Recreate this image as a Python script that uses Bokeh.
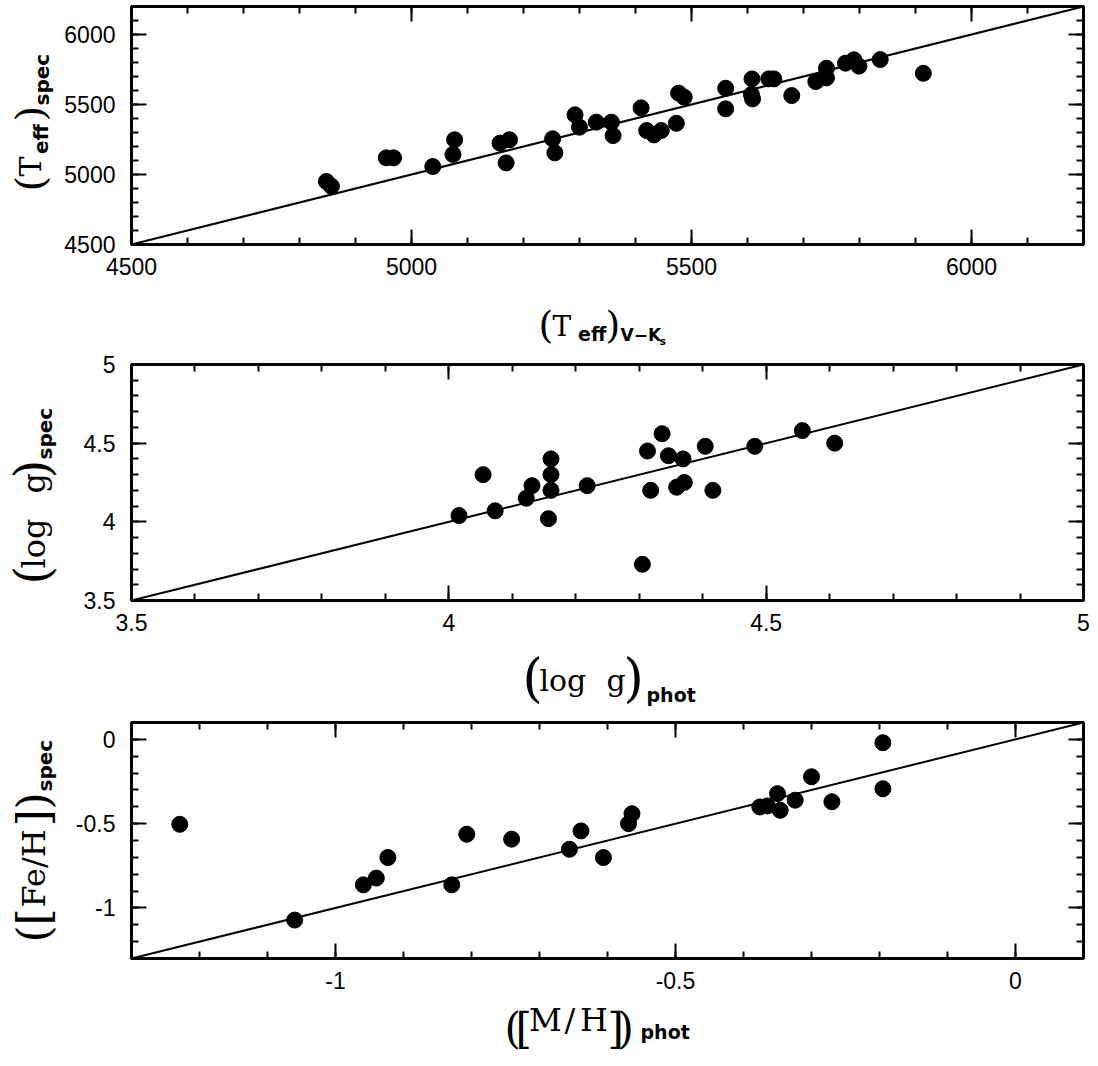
from bokeh.plotting import figure
from bokeh.models import Label, LinearAxis, FixedTicker, NumeralTickFormatter, Range1d
from bokeh.layouts import column, row
from bokeh.embed import file_html
from bokeh.resources import INLINE

# ---------------- data ----------------
# Panel 1: effective temperature
teff_phot = [4848, 4857, 4955, 4968, 5038, 5077, 5074, 5158, 5175, 5169,
             5252, 5256, 5292, 5300, 5330, 5357, 5360, 5410, 5420, 5433,
             5446, 5473, 5477, 5487, 5561, 5561, 5608, 5607, 5609, 5638,
             5647, 5679, 5722, 5741, 5741, 5775, 5790, 5799, 5837, 5914]
teff_spec = [4950, 4916, 5119, 5119, 5057, 5248, 5143, 5224, 5248, 5083,
             5255, 5155, 5426, 5338, 5374, 5374, 5278, 5476, 5314, 5283,
             5314, 5366, 5581, 5552, 5616, 5469, 5683, 5571, 5540, 5683,
             5683, 5564, 5664, 5759, 5690, 5795, 5819, 5774, 5821, 5723]
teff_range = [4500, 6200]
teff_major = [4500, 5000, 5500, 6000]
teff_minor = [4600, 4700, 4800, 4900, 5000, 5100, 5200, 5300, 5400, 5500,
              5600, 5700, 5800, 5900, 6000, 6100]

# Panel 2: surface gravity
logg_phot = [4.016, 4.054, 4.073, 4.122, 4.131, 4.161, 4.161, 4.161, 4.157,
             4.218, 4.305, 4.313, 4.318, 4.336, 4.346, 4.359, 4.369, 4.371,
             4.404, 4.416, 4.482, 4.557, 4.608]
logg_spec = [4.04, 4.30, 4.07, 4.15, 4.23, 4.40, 4.30, 4.20, 4.02, 4.23,
             3.73, 4.45, 4.20, 4.56, 4.42, 4.22, 4.40, 4.25, 4.48, 4.20,
             4.48, 4.58, 4.50]
logg_range = [3.5, 5.0]
logg_major = [3.5, 4.0, 4.5, 5.0]
logg_minor = [3.6, 3.7, 3.8, 3.9, 4.0, 4.1, 4.2, 4.3, 4.4, 4.5, 4.6, 4.7,
              4.8, 4.9]

# Panel 3: metallicity
mh_phot = [-1.229, -1.060, -0.959, -0.940, -0.923, -0.829, -0.807, -0.741,
           -0.656, -0.639, -0.606, -0.569, -0.564, -0.376, -0.365, -0.350,
           -0.346, -0.324, -0.300, -0.270, -0.195, -0.195]
feh_spec = [-0.504, -1.072, -0.863, -0.823, -0.701, -0.863, -0.563, -0.592,
            -0.652, -0.543, -0.701, -0.500, -0.441, -0.401, -0.395, -0.322,
            -0.421, -0.361, -0.222, -0.370, -0.020, -0.293]
met_range = [-1.3, 0.1]
met_major = [-1.0, -0.5, 0.0]
met_minor = [-1.2, -1.1, -1.0, -0.9, -0.8, -0.7, -0.6, -0.5, -0.4, -0.3,
             -0.2, -0.1, 0.0]

# ---------------- styling ----------------
SERIF = "DejaVu Serif"
SANS = "DejaVu Sans"
TICKFONT = "Liberation Sans"
YL_W = 60            # width of the y-label strip
FRAME_LEFT = 131     # page x of the frame's left edge
FRAME_W = 952
BOT_B = 42
MID = 0.32           # em distance from baseline to box middle

ADV = {
    SERIF: {"(": 0.390, ")": 0.390, "[": 0.390, "]": 0.390, "T": 0.668,
            "F": 0.675, "e": 0.592, "/": 0.337, "H": 0.837, "M": 0.995,
            "l": 0.320, "o": 0.602, "g": 0.635, " ": 0.318},
    SANS: {"e": 0.678, "f": 0.435, "s": 0.595, "p": 0.716, "c": 0.593,
           "h": 0.712, "o": 0.687, "t": 0.478, "V": 0.774, "K": 0.775,
           "\u2212": 0.838},
}


def adv(txt, font, size):
    return sum(ADV[font][c] for c in txt) * size


def make_panel(rng, major, minor, xs, ys, top_b, frame_h):
    p = figure(x_range=(rng[0], rng[1]), y_range=(rng[0], rng[1]),
               frame_width=FRAME_W, frame_height=frame_h,
               min_border_left=FRAME_LEFT - YL_W, min_border_right=12,
               min_border_top=top_b, min_border_bottom=BOT_B,
               x_axis_type=None, y_axis_type=None,
               output_backend="svg", toolbar_location=None,
               background_fill_color="white", border_fill_color="white")
    p.outline_line_color = "black"
    p.outline_line_width = 3
    for loc in ["below", "left", "above", "right"]:
        ax = LinearAxis(ticker=FixedTicker(ticks=major, minor_ticks=minor),
                        formatter=NumeralTickFormatter(format="0.[0]"))
        ax.axis_line_color = None
        ax.major_tick_in = 15
        ax.major_tick_out = 0
        ax.minor_tick_in = 7
        ax.minor_tick_out = 0
        ax.major_tick_line_width = 2
        ax.minor_tick_line_width = 2
        ax.major_tick_line_color = "black"
        ax.minor_tick_line_color = "black"
        if loc in ("below", "left"):
            ax.major_label_text_font = TICKFONT
            ax.major_label_text_font_size = "23px"
            ax.major_label_text_color = "black"
            ax.major_label_standoff = 13 if loc == "below" else 16
        else:
            ax.major_label_text_color = None
            ax.major_label_text_font_size = "1px"
            ax.major_label_standoff = 0
        p.add_layout(ax, loc)
    p.line(rng, rng, line_width=2, color="black")
    p.scatter(xs, ys, size=16, color="black", marker="circle")
    return p


def label_fig(w, h, page_left, page_top, pieces, rotated=False):
    """Blank strip whose data units are its own pixels (y downwards).
    pieces: (text, font, size, style, start, baseline) in page pixels;
    horizontal: start = x of text start, baseline = y of baseline;
    rotated (reads upwards): start = y of text start, baseline = x."""
    f = figure(width=w, height=h, x_range=Range1d(0, w), y_range=Range1d(h, 0),
               min_border=0, x_axis_type=None, y_axis_type=None,
               output_backend="svg", toolbar_location=None,
               background_fill_color="white", border_fill_color="white")
    f.outline_line_color = None
    f.frame_align = False
    for txt, font, size, style, start, base in pieces:
        a = adv(txt, font, size)
        if rotated:
            cx, cy = base - MID * size, start - a / 2
        else:
            cx, cy = start + a / 2, base - MID * size
        kw = dict(x=cx - page_left, y=cy - page_top,
                  text=txt, text_font=font, text_font_size=f"{size}px",
                  text_font_style=style, text_color="black",
                  text_align="center", text_baseline="middle")
        if rotated:
            kw["angle"] = 90
            kw["angle_units"] = "deg"
        f.add_layout(Label(**kw))
    return f


STRIP_W = FRAME_LEFT + FRAME_W + 12

# ---------------- panel 1 ----------------
P1_TOP = 0
p1 = make_panel(teff_range, teff_major, teff_minor, teff_phot, teff_spec, 6, 238)
P1_H = 6 + 238 + BOT_B
yl1 = label_fig(YL_W, P1_H, 0, P1_TOP, [
    ("(", SERIF, 40, "normal", 191, 42),
    ("T", SERIF, 30, "normal", 176, 40),
    ("eff", SANS, 20, "bold", 154, 47),
    (")", SERIF, 40, "normal", 121, 42),
    ("spec", SANS, 20, "bold", 105, 48),
], rotated=True)
XL1_TOP = P1_TOP + P1_H
P2_TOP = 348
xl1 = label_fig(STRIP_W, P2_TOP - XL1_TOP, 0, XL1_TOP, [
    ("(", SERIF, 38, "normal", 538, 337),
    ("T", SERIF, 28, "normal", 552, 335),
    ("eff", SANS, 19, "bold", 577, 340),
    (")", SERIF, 38, "normal", 605, 337),
    ("V\u2212K", SANS, 17, "bold", 620, 340),
    ("s", SANS, 11, "bold", 659, 345),
])

# ---------------- panel 2 ----------------
P2_TB = 364 - P2_TOP
p2 = make_panel(logg_range, logg_major, logg_minor, logg_phot, logg_spec, P2_TB, 236)
P2_H = P2_TB + 236 + BOT_B
yl2 = label_fig(YL_W, P2_H, 0, P2_TOP, [
    ("(", SERIF, 48, "normal", 584, 47),
    ("log", SERIF, 32, "normal", 568, 44),
    ("g", SERIF, 32, "normal", 493, 44),
    (")", SERIF, 48, "normal", 478, 47),
    ("spec", SANS, 20, "bold", 459, 51),
], rotated=True)
XL2_TOP = P2_TOP + P2_H
P3_TOP = 710
xl2 = label_fig(STRIP_W, P3_TOP - XL2_TOP, 0, XL2_TOP, [
    ("(", SERIF, 52, "normal", 522, 694),
    ("log", SERIF, 30, "normal", 539, 690),
    ("g", SERIF, 30, "normal", 606, 690),
    (")", SERIF, 52, "normal", 623, 694),
    ("phot", SANS, 19, "bold", 646, 701),
])

# ---------------- panel 3 ----------------
P3_TB = 722 - P3_TOP
p3 = make_panel(met_range, met_major, met_minor, mh_phot, feh_spec, P3_TB, 236)
P3_H = P3_TB + 236 + BOT_B
yl3 = label_fig(YL_W, P3_H, 0, P3_TOP, [
    ("(", SERIF, 44, "normal", 942, 47),
    ("[", SERIF, 44, "normal", 925, 47),
    ("Fe/H", SERIF, 32, "normal", 907, 44),
    ("]", SERIF, 44, "normal", 826, 47),
    (")", SERIF, 44, "normal", 809, 47),
    ("spec", SANS, 20, "bold", 791, 51),
], rotated=True)
XL3_TOP = P3_TOP + P3_H
xl3 = label_fig(STRIP_W, 1064 - XL3_TOP, 0, XL3_TOP, [
    ("(", SERIF, 42, "normal", 504, 1041),
    ("[", SERIF, 42, "normal", 515, 1041),
    ("M", SERIF, 32, "normal", 529, 1030),
    ("/", SERIF, 32, "normal", 564, 1030),
    ("H", SERIF, 32, "normal", 580, 1030),
    ("]", SERIF, 42, "normal", 607, 1041),
    (")", SERIF, 42, "normal", 617, 1041),
    ("phot", SANS, 19, "bold", 640, 1038),
])

layout = column(row(yl1, p1, spacing=0), xl1,
                row(yl2, p2, spacing=0), xl2,
                row(yl3, p3, spacing=0), xl3, spacing=0)
open("out.html", "w").write(file_html(layout, INLINE))
